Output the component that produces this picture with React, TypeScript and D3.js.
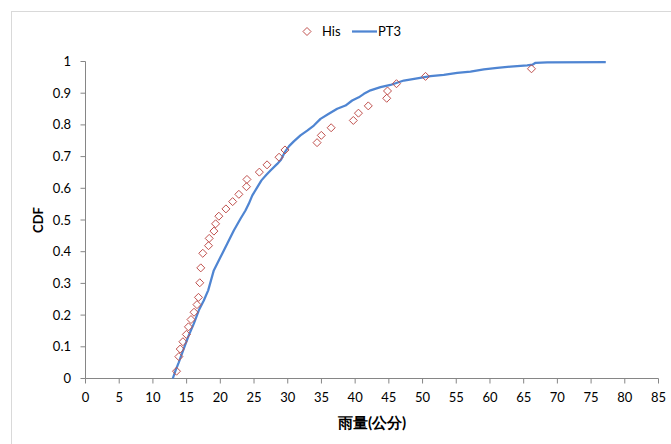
import React from "react";
import * as d3 from "d3";

// Observed rainfall (His) — plotting positions
const hisX = [13.5, 13.85, 14.05, 14.45, 14.96, 15.27, 15.65, 16.1, 16.54, 16.76, 16.95, 17.1, 17.4, 18.25, 18.35, 19.05, 19.3, 19.78, 20.83, 21.83, 22.75, 23.88, 23.95, 25.79, 26.93, 28.71, 29.59, 34.35, 34.98, 36.44, 39.73, 40.49, 41.95, 44.68, 44.8, 46.13, 50.44, 66.16];
const hisY = [0.023, 0.069, 0.093, 0.116, 0.139, 0.163, 0.186, 0.209, 0.233, 0.256, 0.302, 0.349, 0.395, 0.419, 0.442, 0.465, 0.488, 0.512, 0.535, 0.558, 0.581, 0.605, 0.628, 0.651, 0.674, 0.698, 0.721, 0.744, 0.767, 0.791, 0.814, 0.837, 0.86, 0.884, 0.907, 0.93, 0.953, 0.977];

// Pearson type III fitted CDF
const ptX = [12.95, 13.35, 13.84, 14.58, 15.32, 16.07, 16.81, 17.55, 18.2, 19.03, 20.03, 21.02, 22.0, 22.99, 23.73, 24.22, 24.73, 25.47, 26.1, 26.8, 27.44, 28.44, 29.0, 29.6, 30.2, 30.9, 31.89, 32.89, 33.87, 34.86, 36.09, 37.34, 38.57, 39.56, 40.54, 41.3, 42.28, 43.76, 45.24, 47.22, 49.2, 51.18, 53.15, 55.14, 57.11, 59.09, 61.07, 63.05, 65.52, 66.3, 66.76, 68.49, 77.18];
const ptY = [0, 0.025, 0.051, 0.094, 0.136, 0.173, 0.215, 0.246, 0.278, 0.341, 0.383, 0.425, 0.467, 0.504, 0.53, 0.551, 0.577, 0.603, 0.625, 0.642, 0.656, 0.677, 0.69, 0.715, 0.733, 0.748, 0.767, 0.782, 0.798, 0.819, 0.835, 0.851, 0.861, 0.877, 0.887, 0.898, 0.909, 0.919, 0.926, 0.94, 0.947, 0.954, 0.958, 0.964, 0.968, 0.975, 0.98, 0.984, 0.988, 0.99, 0.996, 0.997, 0.998];

const xTicks = d3.range(0, 86, 5);
const yTicks = [0, 0.1, 0.2, 0.3, 0.4, 0.5, 0.6, 0.7, 0.8, 0.9, 1];

const W = 671;
const H = 444;
const FONT = "Lato, 'Open Sans', sans-serif";
const RED = "#C0504D";
const BLUE = "#4F85D2";
const AXIS = "#868686";

export default function App() {
  const x = d3.scaleLinear().domain([0, 85]).range([85.5, 658.5]);
  const y = d3.scaleLinear().domain([0, 1]).range([378.5, 61.5]);

  const line = d3
    .line<number>()
    .x((_, i) => x(ptX[i]))
    .y((d) => y(d));

  const diamond = (cx: number, cy: number, r = 4) =>
    `M${cx},${cy - r}L${cx + r},${cy}L${cx},${cy + r}L${cx - r},${cy}Z`;

  return (
    <svg
      width={W}
      height={H}
      style={{ position: "absolute", left: 0, top: 0, display: "block", background: "#fff" }}
      fontFamily={FONT}
    >
      {/* chart frame */}
      <rect x={11.5} y={11.5} width={W} height={H} fill="#fff" stroke="#d9d9d9" strokeWidth={1} />

      {/* axes */}
      <line x1={x(0)} x2={x(0)} y1={y(1)} y2={y(0)} stroke={AXIS} />
      <line x1={x(0)} x2={x(85)} y1={y(0)} y2={y(0)} stroke={AXIS} />
      {yTicks.map((t) => (
        <g key={"y" + t}>
          <line x1={x(0) - 5} x2={x(0)} y1={y(t)} y2={y(t)} stroke={AXIS} />
          <text x={71} y={y(t) + 4.5} textAnchor="end" fontSize={13} fill="#000">
            {t}
          </text>
        </g>
      ))}
      {xTicks.map((t) => (
        <g key={"x" + t}>
          <line x1={x(t)} x2={x(t)} y1={y(0)} y2={y(0) + 5} stroke={AXIS} />
          <text x={x(t)} y={402} textAnchor="middle" fontSize={13} fill="#000">
            {t}
          </text>
        </g>
      ))}

      {/* axis titles */}
      <text x={372} y={428} textAnchor="middle" fontSize={15} fontWeight="bold" fill="#000">
        雨量(公分)
      </text>
      <text
        transform="translate(43,220) rotate(-90)"
        textAnchor="middle"
        fontSize={13}
        fontWeight="bold"
        fill="#000"
      >
        CDF
      </text>

      {/* PT3 curve */}
      <path d={line(ptY) || ""} fill="none" stroke={BLUE} strokeWidth={2.25} strokeLinejoin="round" />

      {/* His points */}
      {hisX.map((v, i) => (
        <path key={"h" + i} d={diamond(x(v), y(hisY[i]))} fill="none" stroke={RED} strokeWidth={1} />
      ))}

      {/* legend */}
      <path d={diamond(307, 31.5)} fill="none" stroke={RED} strokeWidth={1} />
      <text x={322} y={36} fontSize={13} fill="#000">His</text>
      <line x1={352} x2={377} y1={31.5} y2={31.5} stroke={BLUE} strokeWidth={2.25} />
      <text x={378} y={36} fontSize={13} fill="#000">PT3</text>
    </svg>
  );
}
